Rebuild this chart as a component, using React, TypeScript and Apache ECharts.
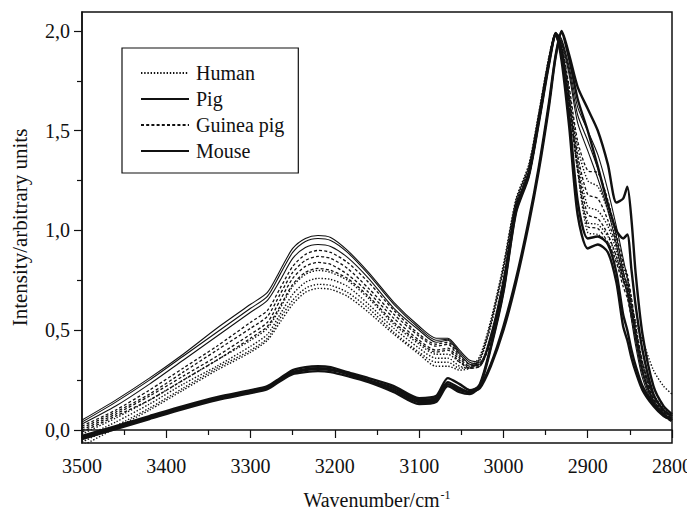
import React, { useEffect, useRef } from "react";
import * as echarts from "echarts";

// Wavenumber grid (cm-1) shared by all spectra
const WAVENUMBERS = [
  3500, 3460, 3420, 3380, 3340, 3300, 3280, 3265, 3250, 3235, 3220, 3205, 3185, 3160, 3130, 3100, 3080, 3066, 3052, 3040, 3028,
  3015, 3000, 2985, 2970, 2958, 2946, 2938, 2931, 2922, 2912, 2900, 2888, 2876, 2866, 2858, 2853, 2848, 2843, 2835, 2822, 2810, 2800,
];

// Human (dotted)
const HUMAN_1 = [-0.02, 0.06, 0.15, 0.25, 0.35, 0.45, 0.51, 0.61, 0.72, 0.78, 0.80, 0.79, 0.75, 0.66, 0.53, 0.43, 0.38, 0.38, 0.34, 0.32, 0.35,
  0.52, 0.80, 1.14, 1.31, 1.58, 1.86, 1.99, 1.93, 1.70, 1.42, 1.25, 1.22, 1.10, 0.95, 0.82, 0.76, 0.65, 0.52, 0.34, 0.17, 0.10, 0.07];
const HUMAN_2 = [-0.04, 0.04, 0.13, 0.23, 0.32, 0.42, 0.48, 0.58, 0.68, 0.74, 0.76, 0.755, 0.72, 0.63, 0.51, 0.41, 0.36, 0.36, 0.32, 0.31, 0.35,
  0.53, 0.81, 1.15, 1.32, 1.58, 1.86, 1.99, 1.92, 1.67, 1.36, 1.12, 1.10, 1.02, 0.90, 0.78, 0.72, 0.62, 0.50, 0.33, 0.16, 0.09, 0.06];
const HUMAN_3 = [-0.06, 0.02, 0.11, 0.21, 0.31, 0.40, 0.46, 0.56, 0.65, 0.71, 0.73, 0.725, 0.69, 0.61, 0.49, 0.39, 0.34, 0.34, 0.31, 0.31, 0.36,
  0.54, 0.82, 1.15, 1.32, 1.59, 1.87, 1.99, 1.91, 1.65, 1.32, 1.04, 1.03, 0.97, 0.87, 0.76, 0.70, 0.60, 0.49, 0.33, 0.18, 0.11, 0.08];
const HUMAN_4 = [-0.08, 0.01, 0.10, 0.20, 0.30, 0.39, 0.45, 0.54, 0.63, 0.69, 0.71, 0.705, 0.67, 0.59, 0.48, 0.38, 0.32, 0.32, 0.30, 0.31, 0.37,
  0.55, 0.83, 1.16, 1.33, 1.59, 1.87, 1.99, 1.91, 1.64, 1.30, 0.99, 0.98, 0.94, 0.85, 0.75, 0.70, 0.62, 0.54, 0.45, 0.30, 0.22, 0.18];

// Pig (thin solid)
const PIG_1 = [0.05, 0.15, 0.26, 0.38, 0.51, 0.63, 0.69, 0.80, 0.91, 0.96, 0.975, 0.965, 0.90, 0.79, 0.64, 0.52, 0.46, 0.46, 0.40, 0.35, 0.34,
  0.48, 0.76, 1.13, 1.30, 1.57, 1.86, 1.99, 1.96, 1.82, 1.62, 1.50, 1.38, 1.20, 1.02, 0.86, 0.76, 0.62, 0.48, 0.30, 0.15, 0.09, 0.07];
const PIG_2 = [0.04, 0.14, 0.25, 0.37, 0.49, 0.61, 0.67, 0.78, 0.89, 0.945, 0.96, 0.95, 0.89, 0.78, 0.63, 0.51, 0.45, 0.455, 0.39, 0.34, 0.33,
  0.47, 0.74, 1.12, 1.29, 1.56, 1.85, 1.99, 1.95, 1.80, 1.58, 1.45, 1.31, 1.14, 0.97, 0.80, 0.71, 0.58, 0.45, 0.28, 0.14, 0.08, 0.06];
const PIG_3 = [0.03, 0.12, 0.23, 0.35, 0.47, 0.59, 0.65, 0.75, 0.86, 0.915, 0.93, 0.92, 0.865, 0.76, 0.61, 0.50, 0.44, 0.45, 0.38, 0.33, 0.32,
  0.46, 0.73, 1.11, 1.28, 1.55, 1.84, 1.98, 1.94, 1.78, 1.54, 1.40, 1.26, 1.10, 0.93, 0.76, 0.68, 0.55, 0.42, 0.26, 0.13, 0.08, 0.06];

// Guinea pig (dashed)
const GUINEA_1 = [0.02, 0.10, 0.20, 0.31, 0.42, 0.54, 0.60, 0.71, 0.82, 0.88, 0.90, 0.89, 0.84, 0.74, 0.60, 0.48, 0.43, 0.44, 0.37, 0.33, 0.33,
  0.46, 0.75, 1.12, 1.29, 1.56, 1.85, 1.99, 1.93, 1.72, 1.45, 1.30, 1.29, 1.15, 0.98, 0.84, 0.78, 0.66, 0.52, 0.34, 0.16, 0.09, 0.06];
const GUINEA_2 = [0.01, 0.09, 0.18, 0.29, 0.40, 0.51, 0.57, 0.68, 0.79, 0.85, 0.87, 0.86, 0.81, 0.71, 0.58, 0.47, 0.42, 0.43, 0.36, 0.32, 0.33,
  0.45, 0.74, 1.11, 1.28, 1.55, 1.84, 1.98, 1.92, 1.68, 1.38, 1.18, 1.16, 1.05, 0.92, 0.79, 0.73, 0.62, 0.49, 0.32, 0.15, 0.08, 0.05];
const GUINEA_3 = [0.00, 0.08, 0.17, 0.27, 0.37, 0.48, 0.54, 0.65, 0.76, 0.82, 0.84, 0.83, 0.78, 0.69, 0.56, 0.45, 0.40, 0.41, 0.35, 0.31, 0.32,
  0.45, 0.73, 1.10, 1.27, 1.54, 1.84, 1.98, 1.91, 1.65, 1.33, 1.08, 1.06, 0.98, 0.87, 0.75, 0.69, 0.59, 0.47, 0.30, 0.14, 0.08, 0.05];
const GUINEA_4 = [-0.01, 0.07, 0.15, 0.25, 0.35, 0.46, 0.52, 0.62, 0.73, 0.79, 0.81, 0.80, 0.76, 0.67, 0.54, 0.44, 0.39, 0.40, 0.34, 0.31, 0.32,
  0.44, 0.72, 1.10, 1.27, 1.54, 1.83, 1.97, 1.90, 1.63, 1.30, 1.02, 1.01, 0.94, 0.84, 0.72, 0.66, 0.56, 0.45, 0.29, 0.13, 0.07, 0.04];

// Mouse (thick solid)
const MOUSE_1 = [-0.03, 0.02, 0.07, 0.12, 0.165, 0.20, 0.22, 0.26, 0.30, 0.315, 0.32, 0.315, 0.29, 0.26, 0.22, 0.16, 0.17, 0.26, 0.23, 0.20, 0.22,
  0.33, 0.52, 0.76, 1.05, 1.32, 1.64, 1.88, 2.0, 1.88, 1.72, 1.61, 1.50, 1.33, 1.14, 1.16, 1.22, 1.05, 0.78, 0.48, 0.22, 0.12, 0.08];
const MOUSE_2 = [-0.035, 0.015, 0.065, 0.115, 0.16, 0.195, 0.215, 0.255, 0.29, 0.305, 0.31, 0.305, 0.285, 0.25, 0.21, 0.15, 0.16, 0.24, 0.21, 0.19, 0.21,
  0.32, 0.50, 0.74, 1.03, 1.30, 1.62, 1.87, 1.99, 1.86, 1.66, 1.50, 1.32, 1.13, 1.00, 0.96, 0.98, 0.80, 0.62, 0.40, 0.18, 0.10, 0.07];
const MOUSE_3 = [-0.04, 0.01, 0.06, 0.11, 0.155, 0.19, 0.21, 0.25, 0.285, 0.30, 0.305, 0.30, 0.28, 0.245, 0.20, 0.14, 0.15, 0.23, 0.20, 0.19, 0.23,
  0.42, 0.70, 1.10, 1.28, 1.55, 1.84, 1.99, 1.85, 1.52, 1.08, 0.91, 0.93, 0.89, 0.74, 0.52, 0.45, 0.36, 0.29, 0.20, 0.12, 0.07, 0.05];
const MOUSE_4 = [-0.045, 0.005, 0.055, 0.105, 0.15, 0.185, 0.205, 0.245, 0.28, 0.29, 0.295, 0.29, 0.27, 0.24, 0.19, 0.13, 0.14, 0.22, 0.19, 0.18, 0.22,
  0.41, 0.69, 1.09, 1.27, 1.54, 1.83, 1.98, 1.88, 1.58, 1.15, 0.96, 0.97, 0.93, 0.79, 0.58, 0.50, 0.40, 0.32, 0.22, 0.13, 0.08, 0.05];

const LEGEND_NAMES = ["Human", "Pig", "Guinea pig", "Mouse"];
const Y_LABEL_VALUES = [0, 0.5, 1, 1.5, 2];
const Y_MINOR_VALUES = [0.25, 0.75, 1.25, 1.75];
const X_MIN = 2800;
const X_MAX = 3500;
const Y_MIN = -0.065;
const Y_MAX = 2.095;

const FONT = "Liberation Serif";
const INK = "#111";

const GROUPS = [
  { name: "Human", curves: [HUMAN_1, HUMAN_2, HUMAN_3, HUMAN_4], width: 1.4, type: [1.4, 1.8] as any },
  { name: "Pig", curves: [PIG_1, PIG_2, PIG_3], width: 1.1, type: "solid" as any },
  { name: "Guinea pig", curves: [GUINEA_1, GUINEA_2, GUINEA_3, GUINEA_4], width: 1.3, type: [3, 2.2] as any },
  { name: "Mouse", curves: [MOUSE_1, MOUSE_2, MOUSE_3, MOUSE_4], width: 2.4, type: "solid" as any },
];

export default function App() {
  const ref = useRef<HTMLDivElement>(null);

  useEffect(() => {
    if (!ref.current) return;
    const chart = echarts.init(ref.current, null, { renderer: "svg" });

    const series: any[] = [];
    GROUPS.forEach((g, gi) => {
      g.curves.forEach((c) => {
        series.push({
          type: "line",
          name: g.name,
          data: WAVENUMBERS.map((w, i) => [w, c[i]]),
          symbol: "none",
          showSymbol: false,
          smooth: 0.25,
          silent: true,
          z: 2 + gi,
          lineStyle: { color: INK, width: g.width, type: g.type },
          itemStyle: { color: INK },
        });
      });
    });

    const axisText = { fontFamily: FONT, fontSize: 20, fontWeight: "normal", color: INK };
    const fmt = (v: number) => v.toFixed(1).replace(".", ",");

    chart.setOption({
      animation: false,
      backgroundColor: "#fff",
      textStyle: { fontFamily: FONT },
      grid: {
        left: 82,
        right: 23,
        top: 12,
        bottom: 82,
        show: true,
        borderColor: INK,
        borderWidth: 1.5,
        containLabel: false,
      },
      legend: {
        data: LEGEND_NAMES,
        orient: "vertical",
        left: 122,
        top: 48,
        padding: [15, 14, 12, 18],
        itemWidth: 48,
        itemHeight: 14,
        itemGap: 6,
        borderColor: INK,
        borderWidth: 1.2,
        selectedMode: false,
        itemStyle: { opacity: 0 },
        textStyle: { fontFamily: FONT, fontSize: 20, fontWeight: "normal", color: INK, padding: [0, 0, 0, 2] },
      },
      xAxis: {
        type: "value",
        min: X_MIN,
        max: X_MAX,
        interval: 100,
        inverse: true,
        axisLine: { show: true, lineStyle: { color: INK, width: 1.5 } },
        axisTick: { show: true, length: 8, lineStyle: { color: INK, width: 1.2 } },
        minorTick: { show: true, splitNumber: 2, length: 5, lineStyle: { color: INK, width: 1.2 } },
        axisLabel: { ...axisText, margin: 13, formatter: (v: number) => String(v) },
        splitLine: { show: false },
        name: "{a|Wavenumber/cm}{b|-1}",
        nameLocation: "middle",
        nameGap: 46,
        nameTextStyle: {
          fontFamily: FONT,
          rich: {
            a: { fontFamily: FONT, fontSize: 20, color: INK },
            b: { fontFamily: FONT, fontSize: 12, color: INK, verticalAlign: "top", padding: [0, 0, 10, 1] },
          },
        },
      },
      yAxis: [
        {
          type: "value",
          min: Y_MIN,
          max: Y_MAX,
          position: "left",
          axisLine: { show: true, lineStyle: { color: INK, width: 1.5 } },
          axisTick: { show: true, length: 8, customValues: Y_LABEL_VALUES, lineStyle: { color: INK, width: 1.2 } },
          axisLabel: { ...axisText, margin: 12, customValues: Y_LABEL_VALUES, formatter: fmt },
          splitLine: { show: false },
          name: "Intensity/arbitrary units",
          nameLocation: "middle",
          nameGap: 52,
          nameTextStyle: { fontFamily: FONT, fontSize: 21, color: INK },
        },
        {
          type: "value",
          min: Y_MIN,
          max: Y_MAX,
          position: "left",
          axisLine: { show: false },
          axisTick: { show: true, length: 5, customValues: Y_MINOR_VALUES, lineStyle: { color: INK, width: 1.2 } },
          axisLabel: { show: false },
          splitLine: { show: false },
        },
      ],
      series,
    });

    return () => chart.dispose();
  }, []);

  return <div ref={ref} style={{ width: 695, height: 525, margin: -8 }} />;
}
